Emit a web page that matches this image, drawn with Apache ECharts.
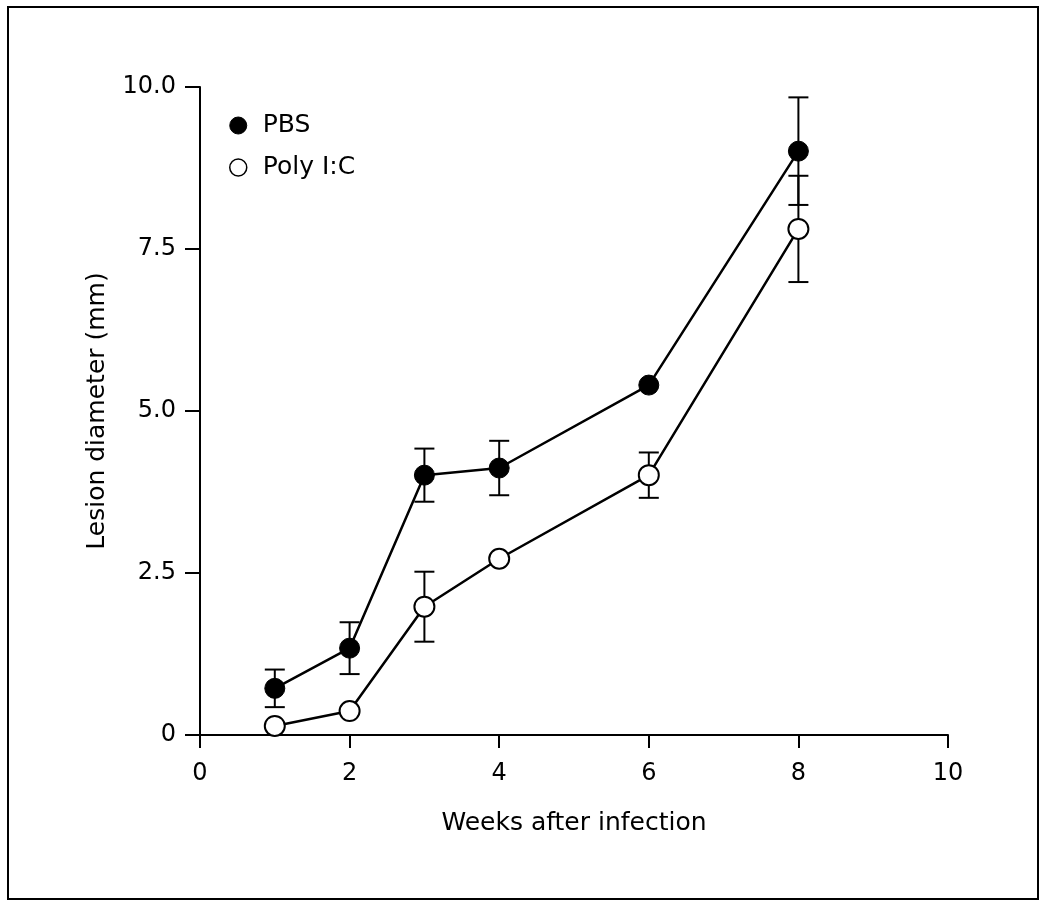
<!DOCTYPE html>
<html>
<head>
<meta charset="utf-8">
<script src="https://cdn.jsdelivr.net/npm/echarts@6/dist/echarts.min.js"></script>
<style>
  html, body { margin: 0; padding: 0; background: #fff; }
  #chart { width: 1050px; height: 903px; }
</style>
</head>
<body>
<div id="chart"></div>
<script>
// weeks after infection
let weeks = [1, 2, 3, 4, 6, 8]
// lesion diameter (mm), mean and error
let pbsMean = [0.72, 1.34, 4.01, 4.12, 5.40, 9.01]
let pbsErr = [0.29, 0.40, 0.41, 0.42, 0, 0.83]
let polyMean = [0.14, 0.37, 1.98, 2.72, 4.01, 7.81]
let polyErr = [0, 0, 0.54, 0, 0.35, 0.82]
let seriesNames = ['PBS', 'Poly I:C']

const font = '"DejaVu Sans", sans-serif'

function points (means) {
  return weeks.map((w, i) => [w, means[i]])
}
function errRows (means, errs) {
  let rows = []
  weeks.forEach((w, i) => {
    if (errs[i] > 0) rows.push([w, means[i] - errs[i], means[i] + errs[i]])
  })
  return rows
}

function renderErr (params, api) {
  let x = api.value(0)
  let lo = api.coord([x, api.value(1)])
  let hi = api.coord([x, api.value(2)])
  let half = 10
  let style = { stroke: '#000', lineWidth: 2 }
  return {
    type: 'group',
    children: [
      { type: 'line', shape: { x1: lo[0], y1: lo[1], x2: hi[0], y2: hi[1] }, style: style },
      { type: 'line', shape: { x1: lo[0] - half, y1: lo[1], x2: lo[0] + half, y2: lo[1] }, style: style },
      { type: 'line', shape: { x1: hi[0] - half, y1: hi[1], x2: hi[0] + half, y2: hi[1] }, style: style }
    ]
  }
}

let myChart = echarts.init(document.getElementById('chart'))
myChart.setOption({
  animation: false,
  backgroundColor: '#fff',
  textStyle: { fontFamily: font },
  graphic: [
    {
      type: 'rect',
      shape: { x: 8, y: 7, width: 1030, height: 892 },
      style: { fill: 'none', stroke: '#000', lineWidth: 2 },
      silent: true
    }
  ],
  grid: {
    left: 200,
    right: 102,
    top: 87,
    bottom: 168
  },
  legend: {
    left: 224,
    top: 108,
    orient: 'vertical',
    itemGap: 17,
    itemWidth: 17,
    itemHeight: 17,
    textStyle: { fontFamily: font, fontSize: 25, color: '#000', padding: [0, 0, 0, 11] },
    data: [
      { name: seriesNames[0], icon: 'circle', itemStyle: { color: '#000', borderColor: '#000', borderWidth: 1 } },
      { name: seriesNames[1], icon: 'circle', itemStyle: { color: '#fff', borderColor: '#000', borderWidth: 1.5 } }
    ]
  },
  xAxis: {
    type: 'value',
    min: 0,
    max: 10,
    interval: 2,
    name: 'Weeks after infection',
    nameLocation: 'middle',
    nameGap: 76,
    nameTextStyle: { fontFamily: font, fontSize: 25, color: '#000' },
    axisLine: { lineStyle: { color: '#000', width: 2 } },
    axisTick: { inside: false, length: 13, lineStyle: { color: '#000', width: 2 } },
    axisLabel: { fontFamily: font, fontSize: 24, color: '#000', margin: 27 },
    splitLine: { show: false }
  },
  yAxis: {
    type: 'value',
    min: 0,
    max: 10,
    interval: 2.5,
    name: 'Lesion diameter (mm)',
    nameLocation: 'middle',
    nameGap: 90,
    nameTextStyle: { fontFamily: font, fontSize: 25, color: '#000' },
    axisLine: { lineStyle: { color: '#000', width: 2 } },
    axisTick: { inside: false, length: 15, lineStyle: { color: '#000', width: 2 } },
    axisLabel: {
      fontFamily: font,
      fontSize: 24,
      color: '#000',
      margin: 24,
      formatter: (v) => v === 0 ? '0' : v.toFixed(1)
    },
    splitLine: { show: false }
  },
  series: [
    {
      type: 'custom',
      name: 'pbsErr',
      renderItem: renderErr,
      data: errRows(pbsMean, pbsErr),
      z: 1,
      silent: true
    },
    {
      type: 'custom',
      name: 'polyErr',
      renderItem: renderErr,
      data: errRows(polyMean, polyErr),
      z: 1,
      silent: true
    },
    {
      type: 'line',
      name: seriesNames[0],
      data: points(pbsMean),
      symbol: 'circle',
      symbolSize: 20,
      lineStyle: { color: '#000', width: 2.5 },
      itemStyle: { color: '#000', borderColor: '#000', borderWidth: 1 },
      z: 3
    },
    {
      type: 'line',
      name: seriesNames[1],
      data: points(polyMean),
      symbol: 'circle',
      symbolSize: 20,
      lineStyle: { color: '#000', width: 2.5 },
      itemStyle: { color: '#fff', borderColor: '#000', borderWidth: 2 },
      z: 3
    }
  ]
})
</script>
</body>
</html>
